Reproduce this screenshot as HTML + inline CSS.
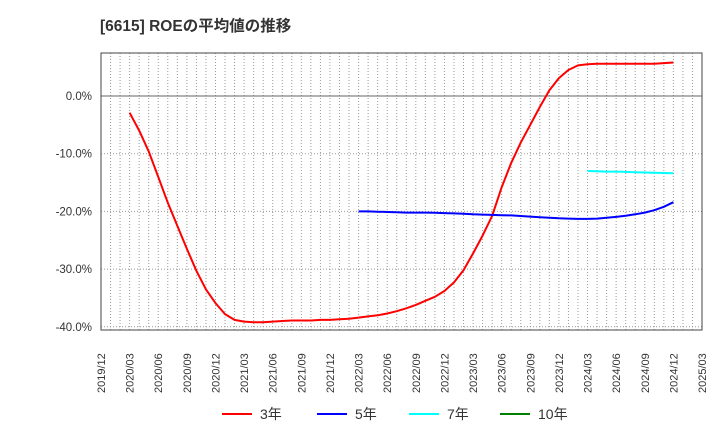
<!DOCTYPE html>
<html><head><meta charset="utf-8"><style>
body{margin:0;background:#fff;}
svg text{font-family:"Liberation Sans","Noto Sans CJK JP",sans-serif;}
</style></head><body>
<svg id="chart" width="720" height="440" xmlns="http://www.w3.org/2000/svg">
<text x="100" y="31" font-size="15.5" font-weight="bold" fill="#333">[6615]  ROEの平均値の推移</text>
<g id="grid"></g>
<g id="series"></g>
<g id="axes"></g>
<g>
<line x1="222" y1="414" x2="252" y2="414" stroke="#ff0000" stroke-width="2"/>
<text x="260" y="419" font-size="14" fill="#333">3年</text>
<line x1="317" y1="414" x2="347" y2="414" stroke="#0000ff" stroke-width="2"/>
<text x="355" y="419" font-size="14" fill="#333">5年</text>
<line x1="409" y1="414" x2="439" y2="414" stroke="#00ffff" stroke-width="2"/>
<text x="447" y="419" font-size="14" fill="#333">7年</text>
<line x1="500" y1="414" x2="530" y2="414" stroke="#008000" stroke-width="2"/>
<text x="538" y="419" font-size="14" fill="#333">10年</text>
</g>
</svg>
<script>
const xTickLabels=["2019/12","2020/03","2020/06","2020/09","2020/12","2021/03","2021/06","2021/09","2021/12","2022/03","2022/06","2022/09","2022/12","2023/03","2023/06","2023/09","2023/12","2024/03","2024/06","2024/09","2024/12","2025/03"];
const yTicks=[0,-10,-20,-30,-40];
const roe3Start=3;
const roe3=[-2.9,-6,-9.6,-14,-18.5,-22.5,-26.5,-30.3,-33.5,-35.9,-37.8,-38.8,-39.1,-39.2,-39.2,-39.1,-39.0,-38.9,-38.9,-38.9,-38.8,-38.8,-38.7,-38.6,-38.4,-38.2,-38.0,-37.7,-37.3,-36.8,-36.2,-35.5,-34.8,-33.8,-32.3,-30.2,-27.3,-24.2,-20.8,-15.8,-11.6,-8.1,-5.0,-1.9,1.0,3.1,4.5,5.3,5.5,5.6,5.6,5.6,5.6,5.6,5.6,5.6,5.7,5.8];
const roe5Start=27;
const roe5=[-20.0,-20.0,-20.05,-20.1,-20.15,-20.2,-20.2,-20.2,-20.25,-20.3,-20.35,-20.4,-20.5,-20.55,-20.6,-20.65,-20.7,-20.8,-20.9,-21.0,-21.1,-21.2,-21.25,-21.3,-21.3,-21.25,-21.1,-20.95,-20.75,-20.5,-20.2,-19.8,-19.2,-18.4];
const roe7Start=51;
const roe7=[-13.0,-13.05,-13.1,-13.1,-13.15,-13.2,-13.25,-13.3,-13.35,-13.4];
const L=101,R=702,T=53,B=330;
const xm=m=>L+(R-L)*m/63;
const ys=v=>96-v*5.77;
const NS="http://www.w3.org/2000/svg";
function mk(p,tag,attrs){const e=document.createElementNS(NS,tag);for(const k in attrs)e.setAttribute(k,attrs[k]);p.appendChild(e);return e;}
const grid=document.getElementById('grid'),axes=document.getElementById('axes'),ser=document.getElementById('series');
for(let m=1;m<63;m++){const l=mk(grid,'line',{x1:xm(m),x2:xm(m),y1:T,y2:B,stroke:'#999','stroke-dasharray':'1,2','stroke-width':1});

}
yTicks.forEach(v=>{const l=mk(grid,'line',{x1:L,x2:R,y1:ys(v),y2:ys(v),stroke:v===0?'#666':'#999','stroke-dasharray':v===0?'none':'1,2','stroke-width':1});


const t=mk(axes,'text',{x:92,y:ys(v)+4,'text-anchor':'end','font-size':11.5,fill:'#333'});t.textContent=v.toFixed(1)+'%';

});
const frame=mk(axes,'rect',{x:L,y:T,width:R-L,height:B-T,fill:'none',stroke:'#444','stroke-width':1});


xTickLabels.forEach((s,i)=>{const x=xm(i*3);const t=mk(axes,'text',{transform:`translate(${x+4},393) rotate(-90)`,'font-size':11,fill:'#333'});t.textContent=s;

});
function line(arr,start,color,name){const pts=arr.map((v,i)=>xm(start+i).toFixed(1)+','+ys(v).toFixed(1)).join(' ');
const p=mk(ser,'polyline',{points:pts,fill:'none',stroke:color,'stroke-width':2,'stroke-linejoin':'round'});

}
line(roe3,roe3Start,'#ff0000','series-3y');
line(roe5,roe5Start,'#0000ff','series-5y');
line(roe7,roe7Start,'#00ffff','series-7y');
</script>
</body></html>
